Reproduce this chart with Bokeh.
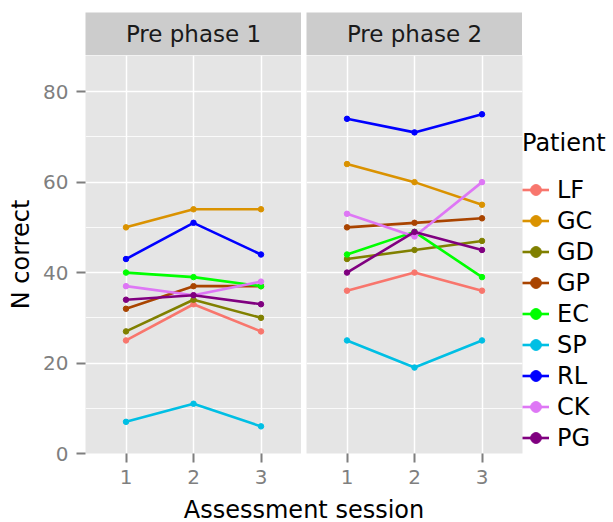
from bokeh.plotting import figure
from bokeh.layouts import row, column
from bokeh.models import (Range1d, FixedTicker, SingleIntervalTicker, Legend,
                          LegendItem, Label, Grid)
from bokeh.embed import file_html
from bokeh.resources import INLINE

# ---------------- data ----------------
patients = ["LF", "GC", "GD", "GP", "EC", "SP", "RL", "CK", "PG"]
sessions = [1, 2, 3]
panel_titles = ["Pre phase 1", "Pre phase 2"]
pre_phase_1 = {
    "LF": [25, 33, 27],
    "GC": [50, 54, 54],
    "GD": [27, 34, 30],
    "GP": [32, 37, 37],
    "EC": [40, 39, 37],
    "SP": [7, 11, 6],
    "RL": [43, 51, 44],
    "CK": [37, 35, 38],
    "PG": [34, 35, 33],
}
pre_phase_2 = {
    "LF": [36, 40, 36],
    "GC": [64, 60, 55],
    "GD": [43, 45, 47],
    "GP": [50, 51, 52],
    "EC": [44, 49, 39],
    "SP": [25, 19, 25],
    "RL": [74, 71, 75],
    "CK": [53, 48, 60],
    "PG": [40, 49, 45],
}
colors = ["#F8766D", "#DA9200", "#808000", "#A94400", "#00FF00",
          "#00BFE4", "#0000FF", "#DE77F5", "#800080"]

FONT = "DejaVu Sans"
PANEL_BG = "#E5E5E5"
STRIP_BG = "#CCCCCC"
GREY = "#7F7F7F"


def make_strip(text, left):
    s = figure(frame_width=216, frame_height=43, min_border_left=left,
               min_border_right=0, min_border_top=12, min_border_bottom=0,
               x_range=Range1d(0, 1), y_range=Range1d(0, 1),
               toolbar_location=None, output_backend="svg",
               x_axis_location=None, y_axis_location=None)
    s.background_fill_color = STRIP_BG
    s.outline_line_color = None
    s.border_fill_color = "white"
    s.xgrid.visible = False
    s.ygrid.visible = False
    s.add_layout(Label(x=0.5, y=0.5, text=text, text_align="center",
                       text_baseline="middle", text_font=FONT,
                       text_font_size="23px", text_color="#1A1A1A"))
    return s


def make_panel(data, left, show_y):
    p = figure(frame_width=216, frame_height=398, min_border_left=left,
               min_border_right=0, min_border_top=0, min_border_bottom=43,
               x_range=Range1d(0.4, 3.6), y_range=Range1d(0, 88),
               toolbar_location=None, output_backend="svg",
               y_axis_location="left" if show_y else None)
    p.background_fill_color = PANEL_BG
    p.border_fill_color = "white"
    p.outline_line_color = None

    p.xaxis.ticker = FixedTicker(ticks=sessions)
    p.xaxis.axis_line_color = None
    p.xaxis.major_tick_line_color = GREY
    p.xaxis.major_tick_line_width = 2
    p.xaxis.major_tick_out = 9
    p.xaxis.major_tick_in = 0
    p.xaxis.minor_tick_line_color = None
    p.xaxis.major_label_text_font = FONT
    p.xaxis.major_label_text_font_size = "20px"
    p.xaxis.major_label_text_color = GREY
    p.xaxis.major_label_standoff = 7
    p.xgrid.grid_line_color = "white"
    p.xgrid.grid_line_width = 1.5

    yticker = SingleIntervalTicker(interval=20, num_minor_ticks=2)
    if show_y:
        p.yaxis.ticker = yticker
        p.yaxis.axis_line_color = None
        p.yaxis.major_tick_line_color = GREY
        p.yaxis.major_tick_line_width = 2
        p.yaxis.major_tick_out = 9
        p.yaxis.major_tick_in = 0
        p.yaxis.minor_tick_line_color = None
        p.yaxis.major_label_text_font = FONT
        p.yaxis.major_label_text_font_size = "20px"
        p.yaxis.major_label_text_color = GREY
        p.yaxis.major_label_standoff = 8
        p.yaxis.axis_label = "N correct"
        p.yaxis.axis_label_text_font = FONT
        p.yaxis.axis_label_text_font_size = "24px"
        p.yaxis.axis_label_text_font_style = "normal"
        p.yaxis.axis_label_text_color = "black"
        p.yaxis.axis_label_standoff = 5
        g = p.ygrid[0]
    else:
        g = Grid(dimension=1, ticker=yticker)
        p.add_layout(g)
    g.grid_line_color = "white"
    g.grid_line_width = 1.5
    g.minor_grid_line_color = "white"
    g.minor_grid_line_width = 0.8

    rends = {}
    for name, col in zip(patients, colors):
        ln = p.line(sessions, data[name], line_color=col, line_width=2.6)
        pt = p.scatter(sessions, data[name], size=5.5, fill_color=col,
                       line_color=col)
        rends[name] = (ln, pt)
    return p, rends


strip1 = make_strip(panel_titles[0], 85)
strip2 = make_strip(panel_titles[1], 5)
p1, _ = make_panel(pre_phase_1, 85, True)
p2, rends2 = make_panel(pre_phase_2, 5, False)

items = [LegendItem(label=name, renderers=list(rends2[name])) for name in patients]
legend = Legend(items=items, location="bottom_left", title="Patient")
legend.title_text_font = FONT
legend.title_text_font_size = "24px"
legend.title_text_font_style = "normal"
legend.title_text_color = "black"
legend.title_standoff = 17
legend.label_text_font = FONT
legend.label_text_font_size = "24px"
legend.label_text_color = "black"
legend.glyph_width = 27
legend.glyph_height = 31
legend.label_height = 31
legend.label_standoff = 8
legend.spacing = 0
legend.padding = 2
legend.margin = 0
legend.border_line_color = None
legend.background_fill_alpha = 0
p2.add_layout(legend, "right")

xt = figure(frame_width=437, frame_height=26, min_border_left=85,
            min_border_right=0, min_border_top=0, min_border_bottom=0,
            x_range=Range1d(0, 1), y_range=Range1d(0, 26),
            toolbar_location=None, output_backend="svg",
            x_axis_location=None, y_axis_location=None)
xt.background_fill_color = "white"
xt.border_fill_color = "white"
xt.outline_line_color = None
xt.xgrid.visible = False
xt.ygrid.visible = False
xt.add_layout(Label(x=0.5, y=13, text="Assessment session", text_align="center",
                    text_baseline="middle", text_font=FONT,
                    text_font_size="24px", text_color="black"))

layout = column(row(column(strip1, p1), column(strip2, p2)), xt)

open("out.html", "w").write(file_html(layout, INLINE))
